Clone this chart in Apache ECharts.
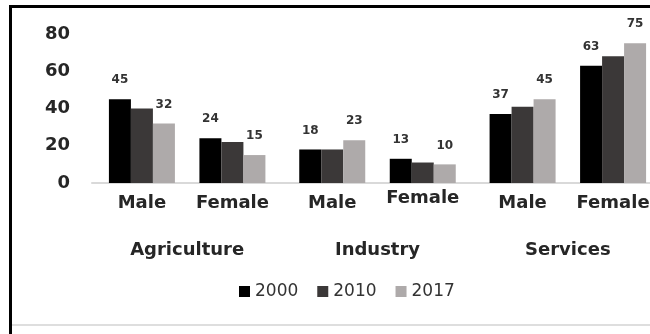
<!DOCTYPE html>
<html>
<head>
<meta charset="utf-8">
<script src="https://cdn.jsdelivr.net/npm/echarts@6/dist/echarts.min.js"></script>
<style>
  html, body { margin: 0; padding: 0; background: #ffffff; }
  #chart { width: 650px; height: 334px; }
</style>
</head>
<body>
<div id="chart"></div>
<script>
// Employment share (%) by sector and gender
const sectors = ['Agriculture', 'Industry', 'Services'];
const genders = ['Male', 'Female'];
const years = ['2000', '2010', '2017'];

// Values run Male, Female for each sector in turn
const values2000 = [45, 24, 18, 13, 37, 63];
const values2010 = [40, 22, 18, 11, 41, 68];
const values2017 = [32, 15, 23, 10, 45, 75];

const yMin = 0;
const yMax = 80;
const yStep = 20;

const yearValues = [values2000, values2010, values2017];
const yearColors = ['#000000', '#3b3838', '#aeaaaa'];
const FONT = 'DejaVu Sans';
const TEXT = '#262626';

function valuesFor(arr, g) {
  return sectors.map((_, i) => arr[i * 2 + g]);
}

const series = [];
genders.forEach((gender, g) => {
  if (g === 1) {
    // empty slot separating the Male and Female bar groups
    series.push({
      type: 'bar',
      name: 'separator',
      barWidth: 24.5,
      barGap: '0%',
      silent: true,
      itemStyle: { color: 'rgba(0,0,0,0)' },
      data: sectors.map(() => 0)
    });
  }
  years.forEach((year, y) => {
    const vals = valuesFor(yearValues[y], g);
    const middle = y === 1;
    series.push({
      type: 'bar',
      name: year,
      barWidth: 22,
      barGap: '0%',
      itemStyle: { color: yearColors[y] },
      label: middle ? {
        show: true,
        position: 'bottom',
        distance: 11,
        formatter: gender,
        fontFamily: FONT,
        fontWeight: 'bold',
        fontSize: 18,
        color: TEXT
      } : {
        show: true,
        position: 'top',
        distance: 13,
        fontFamily: FONT,
        fontWeight: 'bold',
        fontSize: 12,
        color: '#333333'
      },
      data: vals.map((v, i) => (middle && g === 1 && i === 1)
        ? { value: v, label: { offset: [0, -5] } }
        : v)
    });
  });
});

const chart = echarts.init(document.getElementById('chart'), null, { renderer: 'canvas' });
chart.setOption({
  animation: false,
  backgroundColor: '#ffffff',
  grid: {
    left: 92, top: 34, width: 571, bottom: 151,
    containLabel: false,
    outerBoundsMode: 'none'
  },
  legend: {
    data: years,
    left: 239,
    top: 283,
    padding: 0,
    icon: 'rect',
    itemWidth: 11,
    itemHeight: 11,
    itemGap: 19,
    textStyle: { fontFamily: FONT, fontSize: 17, color: '#333333' }
  },
  xAxis: {
    type: 'category',
    data: sectors,
    axisLine: { show: true, lineStyle: { color: '#d9d9d9', width: 2 } },
    axisTick: { show: false },
    axisLabel: {
      margin: 58,
      fontFamily: FONT,
      fontWeight: 'bold',
      fontSize: 18,
      color: TEXT
    }
  },
  yAxis: {
    type: 'value',
    min: yMin,
    max: yMax,
    interval: yStep,
    axisLine: { show: false },
    axisTick: { show: false },
    splitLine: { show: false },
    axisLabel: {
      margin: 22,
      fontFamily: FONT,
      fontWeight: 'bold',
      fontSize: 18,
      color: TEXT
    }
  },
  graphic: [
    {
      type: 'rect',
      silent: true,
      shape: { x: 10.5, y: 6.5, width: 700, height: 400 },
      style: { fill: null, stroke: '#000000', lineWidth: 3 }
    },
    {
      type: 'line',
      silent: true,
      shape: { x1: 12, y1: 325, x2: 650, y2: 325 },
      style: { stroke: '#dedede', lineWidth: 2 }
    }
  ],
  series: series
});
</script>
</body>
</html>
